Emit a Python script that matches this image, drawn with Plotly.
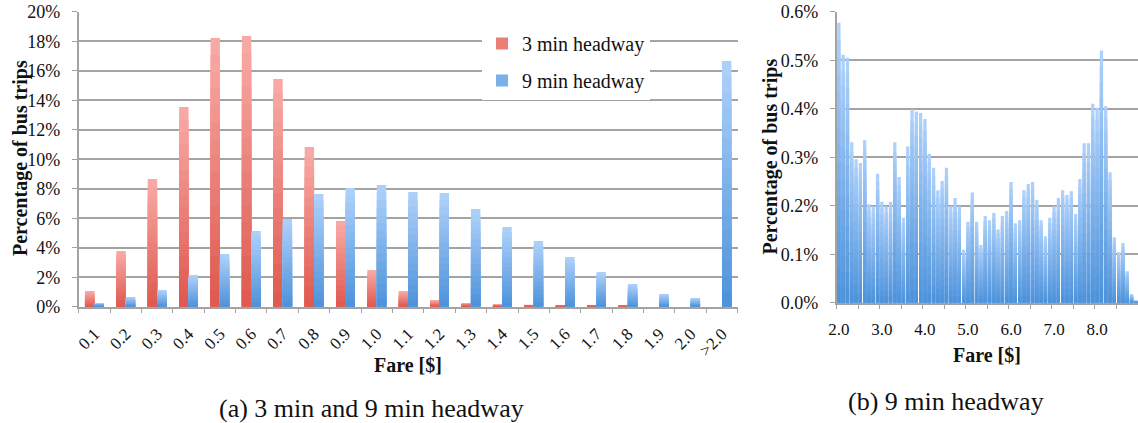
import plotly.graph_objects as go

# ---------------- data ----------------
fare_bins = ["0.1", "0.2", "0.3", "0.4", "0.5", "0.6", "0.7", "0.8", "0.9", "1.0",
             "1.1", "1.2", "1.3", "1.4", "1.5", "1.6", "1.7", "1.8", "1.9", "2.0", ">2.0"]
pct_3min = [1.06, 3.77, 8.66, 13.54, 18.21, 18.35, 15.43, 10.82, 5.81, 2.49,
            1.06, 0.45, 0.25, 0.11, 0.07, 0.05, 0.05, 0.05, 0.0, 0.0, 0.0]
pct_9min = [0.25, 0.66, 1.13, 2.15, 3.57, 5.13, 5.94, 7.64, 8.05, 8.25,
            7.77, 7.71, 6.62, 5.40, 4.45, 3.37, 2.35, 1.54, 0.86, 0.59, 16.66]

fare_fine = [round(2.0 + 0.1 * i, 1) for i in range(70)]
pct_9min_fine = [0.577, 0.511, 0.505, 0.331, 0.296, 0.288, 0.335, 0.203, 0.199, 0.266,
                 0.208, 0.199, 0.208, 0.331, 0.259, 0.175, 0.322, 0.399, 0.394, 0.391,
                 0.379, 0.307, 0.278, 0.232, 0.251, 0.278, 0.199, 0.216, 0.199, 0.109,
                 0.167, 0.227, 0.167, 0.119, 0.179, 0.170, 0.185, 0.151, 0.179, 0.189,
                 0.249, 0.164, 0.170, 0.232, 0.245, 0.249, 0.212, 0.170, 0.137, 0.175,
                 0.199, 0.216, 0.232, 0.222, 0.230, 0.183, 0.255, 0.329, 0.329, 0.410,
                 0.402, 0.520, 0.405, 0.269, 0.135, 0.104, 0.123, 0.065, 0.018, 0.003]
fine_tick_vals = [2.0, 3.0, 4.0, 5.0, 6.0, 7.0, 8.0]
fine_tick_text = ["2.0", "3.0", "4.0", "5.0", "6.0", "7.0", "8.0"]

# ---------------- styling ----------------
W, H = 1138, 423
SERIF = "Liberation Serif, Times New Roman, serif"
GRID = "#A3A3A3"
RED_TOP, RED_BOT = (250, 172, 168), (222, 88, 78)
BLUE_TOP, BLUE_BOT = (176, 210, 251), (76, 146, 218)
N_LAYERS = 16


def mix(c0, c1, t):
    return "rgb(%d,%d,%d)" % tuple(round(a + (b - a) * t) for a, b in zip(c0, c1))


def px_x(x):
    return x / W


def px_y(y):
    return 1 - y / H


fig = go.Figure()


def gradient_bars(x, values, top, bot, name, xaxis, yaxis, width, offset=None, legend=False):
    # Excel-like vertical gradient: stacked overlays of the same bars, shorter ones darker
    for k in range(N_LAYERS):
        frac = (N_LAYERS - k) / N_LAYERS
        t = (N_LAYERS - k - 0.5) / N_LAYERS
        kw = dict(offset=offset) if offset is not None else {}
        fig.add_trace(go.Bar(
            x=x, y=[v * frac for v in values], width=width,
            marker=dict(color=mix(bot, top, t), line=dict(width=0)),
            name=name, legendgroup=name,
            showlegend=legend and k == N_LAYERS // 2,
            xaxis=xaxis, yaxis=yaxis, hoverinfo="skip", **kw))


gradient_bars(fare_bins, pct_3min, RED_TOP, RED_BOT, "3 min headway", "x", "y", 0.3, -0.3, True)
gradient_bars(fare_bins, pct_9min, BLUE_TOP, BLUE_BOT, "9 min headway", "x", "y", 0.3, 0.0, True)
gradient_bars(fare_fine, pct_9min_fine, BLUE_TOP, BLUE_BOT, "9 min headway (b)", "x2", "y2", 0.076)

tick_font = dict(family=SERIF, size=18, color="#111")

fig.update_layout(
    template="none",
    width=W, height=H,
    margin=dict(l=0, r=0, t=0, b=0, pad=0, autoexpand=False),
    paper_bgcolor="white", plot_bgcolor="white",
    barmode="overlay",
    showlegend=True,
    legend=dict(x=px_x(482), y=px_y(24), xanchor="left", yanchor="top",
                bgcolor="white", borderwidth=0, tracegroupgap=8,
                font=dict(family=SERIF, size=20, color="#111"),
                itemclick=False, itemdoubleclick=False),
    xaxis=dict(domain=[px_x(78.7), px_x(737.7)], anchor="y", automargin=False,
               type="category", range=[-0.5, 20.5],
               tickson="boundaries", ticks="outside", ticklen=5, tickcolor=GRID,
               tickangle=-45, tickfont=dict(family=SERIF, size=17, color="#111"),
               ticklabelstandoff=9,
               showgrid=False, showline=True, linecolor=GRID, linewidth=1.5,
               zeroline=False),
    yaxis=dict(domain=[px_y(306.7), px_y(11.7)], anchor="x", automargin=False,
               range=[0, 20], dtick=2, ticksuffix="%",
               tickfont=tick_font, ticks="outside", ticklen=5, tickcolor=GRID,
               ticklabelstandoff=8,
               showgrid=True, gridcolor=GRID, gridwidth=1.5,
               showline=True, linecolor=GRID, linewidth=1.5, zeroline=False),
    xaxis2=dict(domain=[px_x(836.7), 1.0], anchor="y2", automargin=False,
                range=[1.95, 8.95], tickvals=fine_tick_vals, ticktext=fine_tick_text,
                ticks="", tickfont=dict(family=SERIF, size=17, color="#111"),
                ticklabelstandoff=10,
                minor=dict(tickvals=[1.95 + 0.5 * i for i in range(15)], ticks="outside",
                           ticklen=5, tickcolor=GRID, showgrid=False),
                showgrid=False, showline=True, linecolor=GRID, linewidth=1.5,
                zeroline=False),
    yaxis2=dict(domain=[px_y(302.7), px_y(11.7)], anchor="x2", automargin=False,
                range=[0, 0.6], dtick=0.1, tickformat=".1f", ticksuffix="%",
                tickfont=tick_font, ticks="outside", ticklen=5, tickcolor=GRID,
                ticklabelstandoff=8,
                showgrid=True, gridcolor=GRID, gridwidth=1.5,
                showline=True, linecolor=GRID, linewidth=1.5, zeroline=False),
)

title_font = dict(family=SERIF, size=20, color="#111", weight="bold")
cap_font = dict(family=SERIF, size=26, color="#111")

annotations = [
    dict(text="Percentage of bus trips", x=px_x(20), y=px_y(158), textangle=-90, font=title_font),
    dict(text="Percentage of bus trips", x=px_x(769.5), y=px_y(157), textangle=-90, font=title_font),
    dict(text="Fare [$]", x=px_x(408), y=px_y(365), font=title_font),
    dict(text="Fare [$]", x=px_x(987), y=px_y(355), font=title_font),
    dict(text="(a) 3 min and 9 min headway", x=px_x(372), y=px_y(408), font=cap_font),
    dict(text="(b) 9 min headway", x=px_x(946), y=px_y(401), font=cap_font),
]
for a in annotations:
    fig.add_annotation(xref="paper", yref="paper", showarrow=False,
                       xanchor="center", yanchor="middle", **a)

fig.write_html("out.html", config={"displayModeBar": False},
               post_script="document.body.style.margin='0';document.body.style.overflow='hidden';")
